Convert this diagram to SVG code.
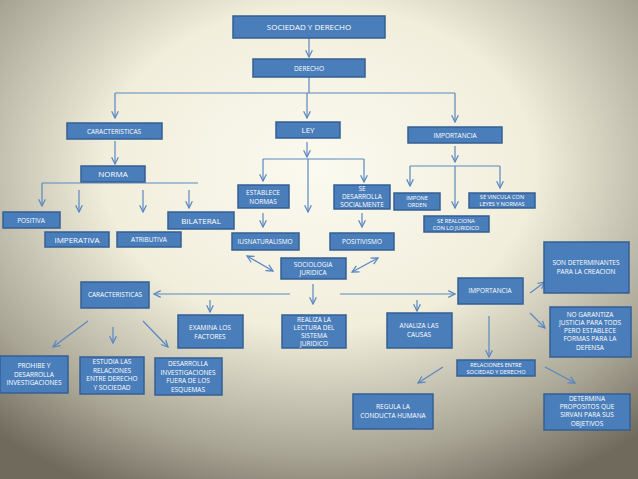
<svg xmlns="http://www.w3.org/2000/svg" width="638" height="479" viewBox="0 0 638 479">
<defs>
<radialGradient id="bg" cx="0.5" cy="0.35" r="0.75">
<stop offset="0" stop-color="#fbfaf0"/><stop offset="0.45" stop-color="#f1eedc"/><stop offset="0.8" stop-color="#a9a595"/><stop offset="1" stop-color="#6f6a5c"/>
</radialGradient>
<marker id="a" viewBox="0 0 10 10" refX="9" refY="5" markerWidth="7" markerHeight="7" orient="auto-start-reverse"><path d="M1,1 L9,5 L1,9" fill="none" stroke="#5b87c0" stroke-width="1.5"/></marker>
</defs>
<style>
rect{fill:#4a7ebb;stroke:#355f92;stroke-width:1.5}
text{font-family:"Open Sans","Liberation Sans",sans-serif;fill:#fff;font-size:6.5px;text-anchor:middle}
.b{font-size:8px}
.s{font-size:5.6px}
#c line,#c path{stroke:#5b87c0;stroke-width:1.2;fill:none}
.m{marker-end:url(#a)}
.d{marker-start:url(#a);marker-end:url(#a)}
</style>
<rect x="0" y="0" width="638" height="479" style="fill:url(#bg);stroke:none"/>
<g id="c">
<line class="m" x1="309" y1="38" x2="309" y2="57"/>
<line x1="309" y1="77" x2="309" y2="93"/><line x1="115" y1="93" x2="455" y2="93"/>
<line class="m" x1="115" y1="93" x2="115" y2="118"/><line class="m" x1="307" y1="93" x2="307" y2="118"/><line class="m" x1="455" y1="93" x2="455" y2="122"/>
<line class="m" x1="115" y1="141" x2="115" y2="164"/>
<line x1="42" y1="183" x2="198" y2="183"/>
<line class="m" x1="42" y1="183" x2="42" y2="206"/><line class="m" x1="79" y1="190" x2="79" y2="212"/><line class="m" x1="143" y1="190" x2="143" y2="212"/><line class="m" x1="189" y1="190" x2="189" y2="208"/>
<line class="m" x1="307" y1="142" x2="307" y2="157"/><line x1="263" y1="159" x2="364" y2="159"/>
<line class="m" x1="263" y1="159" x2="263" y2="181"/><line class="m" x1="308" y1="159" x2="308" y2="212"/><line class="m" x1="364" y1="159" x2="364" y2="182"/>
<line class="m" x1="263" y1="213" x2="263" y2="227"/><line class="m" x1="362" y1="213" x2="362" y2="227"/>
<line class="d" x1="247" y1="256" x2="273" y2="271"/><line class="d" x1="352" y1="272" x2="378" y2="258"/>
<line class="m" x1="455" y1="146" x2="455" y2="162"/><line x1="410" y1="166" x2="500" y2="166"/>
<line class="m" x1="410" y1="166" x2="410" y2="186"/><line class="m" x1="455" y1="166" x2="455" y2="208"/><line class="m" x1="500" y1="166" x2="500" y2="188"/>
<line class="m" x1="313" y1="284" x2="313" y2="304"/>
<line class="m" x1="290" y1="294" x2="154" y2="294"/><line class="m" x1="340" y1="294" x2="455" y2="294"/>
<line class="m" x1="210" y1="300" x2="210" y2="312"/><line class="m" x1="417" y1="300" x2="417" y2="311"/>
<line class="m" x1="88" y1="321" x2="53" y2="347"/><line class="m" x1="113" y1="327" x2="113" y2="343"/><line class="m" x1="143" y1="321" x2="168" y2="347"/>
<line class="m" x1="530" y1="293" x2="545" y2="282"/><line class="m" x1="530" y1="313" x2="545" y2="328"/><line class="m" x1="489" y1="316" x2="489" y2="357"/>
<line class="m" x1="443" y1="367" x2="418" y2="383"/><line class="m" x1="545" y1="367" x2="575" y2="383"/>
</g>
<g id="n1"><rect x="233" y="16" width="152" height="22"/><text class="b" x="309" y="30">SOCIEDAD Y DERECHO</text></g>
<g id="n2"><rect x="253" y="59" width="112" height="18"/><text x="309" y="71">DERECHO</text></g>
<g id="n3"><rect x="67" y="123" width="95" height="16"/><text x="114" y="134">CARACTERISTICAS</text></g>
<g id="n4"><rect x="276" y="122" width="64" height="16"/><text class="b" x="308" y="133">LEY</text></g>
<g id="n5"><rect x="408" y="127" width="94" height="16"/><text x="455" y="138">IMPORTANCIA</text></g>
<g id="n6"><rect x="81" y="166" width="64" height="16"/><text class="b" x="113" y="177">NORMA</text></g>
<g id="n7"><rect x="3" y="212" width="57" height="16"/><text x="31" y="223">POSITIVA</text></g>
<g id="n8"><rect x="45" y="232" width="64" height="15"/><text class="b" x="77" y="243">IMPERATIVA</text></g>
<g id="n9"><rect x="117" y="232" width="64" height="15"/><text x="149" y="242">ATRIBUTIVA</text></g>
<g id="n10"><rect x="168" y="212" width="66" height="17"/><text class="b" x="201" y="224">BILATERAL</text></g>
<g id="n11"><rect x="238" y="185" width="51" height="23"/><text x="263" y="195">ESTABLECE</text><text x="263" y="204">NORMAS</text></g>
<g id="n12"><rect x="334" y="185" width="56" height="24"/><text x="362" y="191">SE</text><text x="362" y="199">DESARROLLA</text><text x="362" y="207">SOCIALMENTE</text></g>
<g id="n13"><rect x="394" y="193" width="46" height="17"/><text class="s" x="417" y="200">IMPONE</text><text class="s" x="417" y="207">ORDEN</text></g>
<g id="n14"><rect x="469" y="193" width="66" height="15"/><text class="s" x="502" y="199">SE VINCULA CON</text><text class="s" x="502" y="206">LEYES Y NORMAS</text></g>
<g id="n15"><rect x="424" y="216" width="65" height="16"/><text class="s" x="456" y="222.5">SE REALCIONA</text><text class="s" x="456" y="229.5">CON LO JURIDICO</text></g>
<g id="n16"><rect x="232" y="233" width="67" height="17"/><text x="265" y="244">IUSNATURALISMO</text></g>
<g id="n17"><rect x="330" y="233" width="64" height="17"/><text x="362" y="244">POSITIVISMO</text></g>
<g id="n18"><rect x="281" y="258" width="65" height="21"/><text x="313" y="267">SOCIOLOGIA</text><text x="313" y="275">JURIDICA</text></g>
<g id="n19"><rect x="81" y="282" width="68" height="26"/><text x="115" y="297">CARACTERISTICAS</text></g>
<g id="n20"><rect x="458" y="278" width="65" height="26"/><text x="490" y="293">IMPORTANCIA</text></g>
<g id="n21"><rect x="544" y="242" width="85" height="51"/><text x="586" y="265">SON DETERMINANTES</text><text x="586" y="274">PARA LA CREACION</text></g>
<g id="n22"><rect x="550" y="307" width="81" height="50"/><text x="590" y="317">NO GARANTIZA</text><text x="590" y="325">JUSTICIA PARA TODS</text><text x="590" y="333">PERO ESTABLECE</text><text x="590" y="341">FORMAS PARA LA</text><text x="590" y="350">DEFENSA</text></g>
<g id="n23"><rect x="178" y="315" width="65" height="33"/><text x="210" y="330">EXAMINA LOS</text><text x="210" y="339">FACTORES</text></g>
<g id="n24"><rect x="282" y="315" width="64" height="33"/><text x="314" y="322">REALIZA LA</text><text x="314" y="330">LECTURA DEL</text><text x="314" y="338">SISTEMA</text><text x="314" y="346">JURIDICO</text></g>
<g id="n25"><rect x="387" y="313" width="65" height="35"/><text x="419" y="328">ANALIZA LAS</text><text x="419" y="337">CAUSAS</text></g>
<g id="n26"><rect x="0" y="356" width="68" height="37"/><text x="34" y="368">PROHIBE Y</text><text x="34" y="377">DESARROLLA</text><text x="34" y="385">INVESTIGACIONES</text></g>
<g id="n27"><rect x="80" y="357" width="64" height="37"/><text x="112" y="364">ESTUDIA LAS</text><text x="112" y="373">RELACIONES</text><text x="112" y="381">ENTRE DERECHO</text><text x="112" y="390">Y SOCIEDAD</text></g>
<g id="n28"><rect x="155" y="358" width="67" height="37"/><text x="188" y="366">DESARROLLA</text><text x="188" y="375">INVESTIGACIONES</text><text x="188" y="383">FUERA DE LOS</text><text x="188" y="392">ESQUEMAS</text></g>
<g id="n29"><rect x="457" y="360" width="78" height="16"/><text class="s" x="496" y="366.5">RELACIONES ENTRE</text><text class="s" x="496" y="373.5">SOCIEDAD Y DERECHO</text></g>
<g id="n30"><rect x="353" y="394" width="80" height="35"/><text x="393" y="409">REGULA LA</text><text x="393" y="418">CONDUCTA HUMANA</text></g>
<g id="n31"><rect x="544" y="394" width="86" height="36"/><text x="587" y="401">DETERMINA</text><text x="587" y="409">PROPOSITOS QUE</text><text x="587" y="417">SIRVAN PARA SUS</text><text x="587" y="426">OBJETIVOS</text></g>
</svg>
